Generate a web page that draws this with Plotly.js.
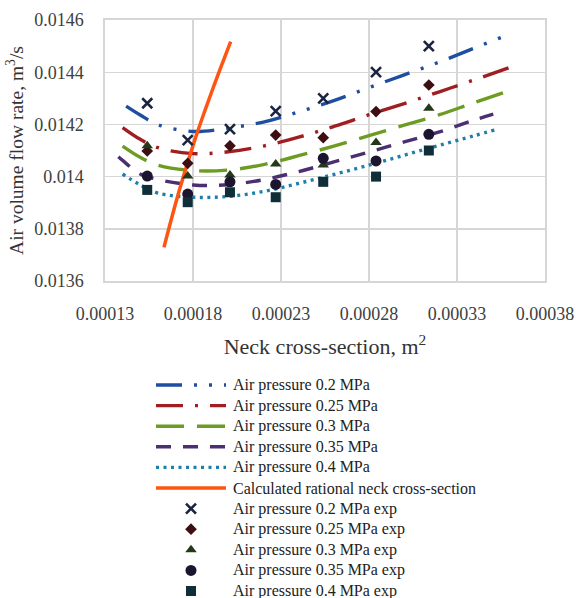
<!DOCTYPE html>
<html>
<head>
<meta charset="utf-8">
<script src="https://cdn.plot.ly/plotly-3.0.1.min.js"></script>
<style>html,body{margin:0;padding:0;background:#fff}#chart{width:576px;height:598px}</style>
</head>
<body>
<div id="chart"></div>
<script>
// ---------- data ----------
const xTickVals = [0.00013, 0.00018, 0.00023, 0.00028, 0.00033, 0.00038];
const xTickText = ['0.00013', '0.00018', '0.00023', '0.00028', '0.00033', '0.00038'];
const yTickVals = [0.0136, 0.0138, 0.014, 0.0142, 0.0144, 0.0146];
const yTickText = ['0.0136', '0.0138', '0.014', '0.0142', '0.0144', '0.0146'];

// fitted curves
const fitX_02  = [0.000142, 0.00015, 0.00016, 0.00018, 0.0002, 0.00022, 0.00024, 0.00026, 0.00028, 0.0003, 0.00032, 0.00034, 0.000361];
const fitY_02  = [0.01427, 0.014236, 0.014199, 0.014173, 0.014186, 0.014209, 0.014248, 0.014291, 0.014341, 0.01439, 0.014439, 0.014493, 0.014549];
const fitX_025 = [0.00014, 0.00015, 0.00016, 0.00018, 0.0002, 0.00022, 0.00024, 0.00026, 0.00028, 0.0003, 0.00032, 0.00034, 0.000361];
const fitY_025 = [0.014188, 0.014143, 0.014111, 0.014088, 0.014095, 0.014117, 0.014151, 0.014192, 0.014237, 0.01428, 0.014325, 0.014371, 0.014421];
const fitX_03  = [0.00014, 0.00015, 0.00016, 0.00018, 0.0002, 0.00022, 0.00024, 0.00026, 0.00028, 0.0003, 0.00032, 0.00034, 0.000358];
const fitY_03  = [0.014117, 0.014074, 0.014044, 0.014023, 0.014025, 0.014046, 0.01408, 0.014117, 0.014157, 0.014197, 0.014237, 0.014284, 0.014325];
const fitX_035 = [0.0001376, 0.00014, 0.00015, 0.00016, 0.00018, 0.0002, 0.00022, 0.00024, 0.00026, 0.00028, 0.0003, 0.00032, 0.00034, 0.0003506];
const fitY_035 = [0.014076, 0.014062, 0.01401, 0.013989, 0.013968, 0.013969, 0.013988, 0.014019, 0.014056, 0.014094, 0.014133, 0.014171, 0.014217, 0.014239];
const fitX_04  = [0.00014, 0.00015, 0.00016, 0.00018, 0.0002, 0.00022, 0.00024, 0.00026, 0.00028, 0.0003, 0.00032, 0.00034, 0.0003516];
const fitY_04  = [0.01401, 0.013968, 0.013937, 0.013921, 0.013924, 0.013943, 0.013974, 0.014008, 0.014044, 0.014082, 0.01412, 0.014157, 0.014179];

// calculated rational neck cross-section
const ratX = [0.0001635, 0.0001681, 0.0001726, 0.0001772, 0.0001817, 0.0001863, 0.0001908, 0.0001953, 0.0002014];
const ratY = [0.013729, 0.013847, 0.013956, 0.014058, 0.014154, 0.014244, 0.014328, 0.01441, 0.014517];

// experimental points
const expX   = [0.000154, 0.000177, 0.000201, 0.000227, 0.000254, 0.000284, 0.000314];
const exp02  = [0.014281, 0.01414, 0.014182, 0.014251, 0.0143, 0.0144, 0.0145];
const exp025 = [0.014098, 0.014051, 0.014118, 0.014159, 0.014149, 0.014249, 0.014351];
const exp03  = [0.014118, 0.014002, 0.014006, 0.014048, 0.014044, 0.014131, 0.014262];
const exp035 = [0.014002, 0.013933, 0.01398, 0.01397, 0.01407, 0.01406, 0.014162];
const exp04  = [0.013949, 0.013902, 0.01394, 0.013921, 0.01398, 0.014, 0.0141];

const legendLabels = [
  'Air pressure 0.2 MPa', 'Air pressure 0.25 MPa', 'Air pressure 0.3 MPa',
  'Air pressure 0.35 MPa', 'Air pressure 0.4 MPa', 'Calculated rational neck cross-section',
  'Air pressure 0.2 MPa exp', 'Air pressure 0.25 MPa exp', 'Air pressure 0.3 MPa exp',
  'Air pressure 0.35 MPa exp', 'Air pressure 0.4 MPa exp'
];

// ---------- styles ----------
const FONT = 'Liberation Serif, Times New Roman, serif';
const lineStyles = [
  {color: '#1f4ea1', width: 3.4, dash: '26px,12px,3px,12px,3px,12px'},
  {color: '#a01e22', width: 3.4, dash: '27px,12px,3px,12px'},
  {color: '#6c9c22', width: 3.4, dash: '28px,13px'},
  {color: '#4c2e72', width: 3.4, dash: '15px,12px'},
  {color: '#1f7fab', width: 3.4, dash: '3px,4.5px'},
  {color: '#ff5512', width: 3.5, dash: 'solid'}
];
const markerStyles = [
  {symbol: 'x-thin-open', size: 10, color: '#1b2440', line: {color: '#1b2440', width: 2.6}},
  {symbol: 'diamond', size: 9, color: '#3d0e12', line: {width: 0}},
  {symbol: 'triangle-up', size: 10, color: '#24381a', line: {width: 0}},
  {symbol: 'circle', size: 11, color: '#1c1530', line: {width: 0}},
  {symbol: 'square', size: 10, color: '#0f2e38', line: {width: 0}}
];

const fitXs = [fitX_02, fitX_025, fitX_03, fitX_035, fitX_04];
const fitYs = [fitY_02, fitY_025, fitY_03, fitY_035, fitY_04];
const expYs = [exp02, exp025, exp03, exp035, exp04];

const traces = [];
for (let i = 0; i < 5; i++) {
  traces.push({x: fitXs[i], y: fitYs[i], type: 'scatter', mode: 'lines',
    line: Object.assign({shape: 'spline', smoothing: 1}, lineStyles[i]),
    name: legendLabels[i], showlegend: false, hoverinfo: 'skip'});
}
traces.push({x: ratX, y: ratY, type: 'scatter', mode: 'lines',
  line: Object.assign({shape: 'spline', smoothing: 1}, lineStyles[5]),
  name: legendLabels[5], showlegend: false, hoverinfo: 'skip'});
for (let i = 0; i < 5; i++) {
  traces.push({x: expX, y: expYs[i], type: 'scatter', mode: 'markers',
    marker: markerStyles[i], name: legendLabels[6 + i], showlegend: false, hoverinfo: 'skip'});
}

// ---------- hand-built legend on a pixel-coordinate helper axis ----------
const W = 576, H = 598;
const legTop = 385, legStep = 20.6, sampleX0 = 156, sampleX1 = 226, sampleMid = 191, textX = 231;
const annotations = [];
for (let i = 0; i < legendLabels.length; i++) {
  const yy = legTop + i * legStep;
  if (i < 6) {
    traces.push({x: [sampleX0, sampleX1], y: [yy, yy], xaxis: 'x2', yaxis: 'y2',
      type: 'scatter', mode: 'lines', line: lineStyles[i], showlegend: false, hoverinfo: 'skip'});
  } else {
    traces.push({x: [sampleMid], y: [yy], xaxis: 'x2', yaxis: 'y2',
      type: 'scatter', mode: 'markers', marker: markerStyles[i - 6], showlegend: false, hoverinfo: 'skip'});
  }
  annotations.push({xref: 'x2', yref: 'y2', x: textX, y: yy, text: legendLabels[i],
    showarrow: false, xanchor: 'left', yanchor: 'middle',
    font: {family: FONT, size: 16, color: '#222'}});
}

const gridCol = '#d6d6d6';
const layout = {
  width: W, height: H,
  margin: {l: 0, r: 0, t: 0, b: 0},
  paper_bgcolor: '#ffffff',
  plot_bgcolor: 'rgba(0,0,0,0)',
  showlegend: false,
  hovermode: false,
  font: {family: FONT, color: '#333'},
  xaxis: {
    domain: [105 / W, 545 / W],
    range: [0.00013, 0.00038],
    tickvals: xTickVals, ticktext: xTickText,
    showgrid: true, gridcolor: gridCol, gridwidth: 1.4,
    showline: true, mirror: true, linecolor: gridCol, linewidth: 1.6,
    zeroline: false, ticks: '', ticklabelstandoff: 16,
    tickfont: {family: FONT, size: 18, color: '#404040'},
    title: {text: 'Neck cross-section, m<sup>2</sup>', standoff: 15,
      font: {family: FONT, size: 22, color: '#333'}}
  },
  yaxis: {
    domain: [1 - 281 / H, 1 - 20 / H],
    range: [0.0136, 0.0146],
    tickvals: yTickVals, ticktext: yTickText,
    showgrid: true, gridcolor: gridCol, gridwidth: 1.4,
    showline: true, mirror: true, linecolor: gridCol, linewidth: 1.6,
    zeroline: false, ticks: '', ticklabelstandoff: 16,
    tickfont: {family: FONT, size: 18, color: '#404040'},
    title: {text: 'Air volume flow rate, m<sup>3</sup>/s', standoff: 5,
      font: {family: FONT, size: 19.5, color: '#333'}}
  },
  xaxis2: {domain: [0, 1], range: [0, W], anchor: 'y2', visible: false, fixedrange: true},
  yaxis2: {domain: [0, 1], range: [H, 0], anchor: 'x2', visible: false, fixedrange: true},
  annotations: annotations
};

Plotly.newPlot('chart', traces, layout, {displayModeBar: false, staticPlot: true});
</script>
</body>
</html>
